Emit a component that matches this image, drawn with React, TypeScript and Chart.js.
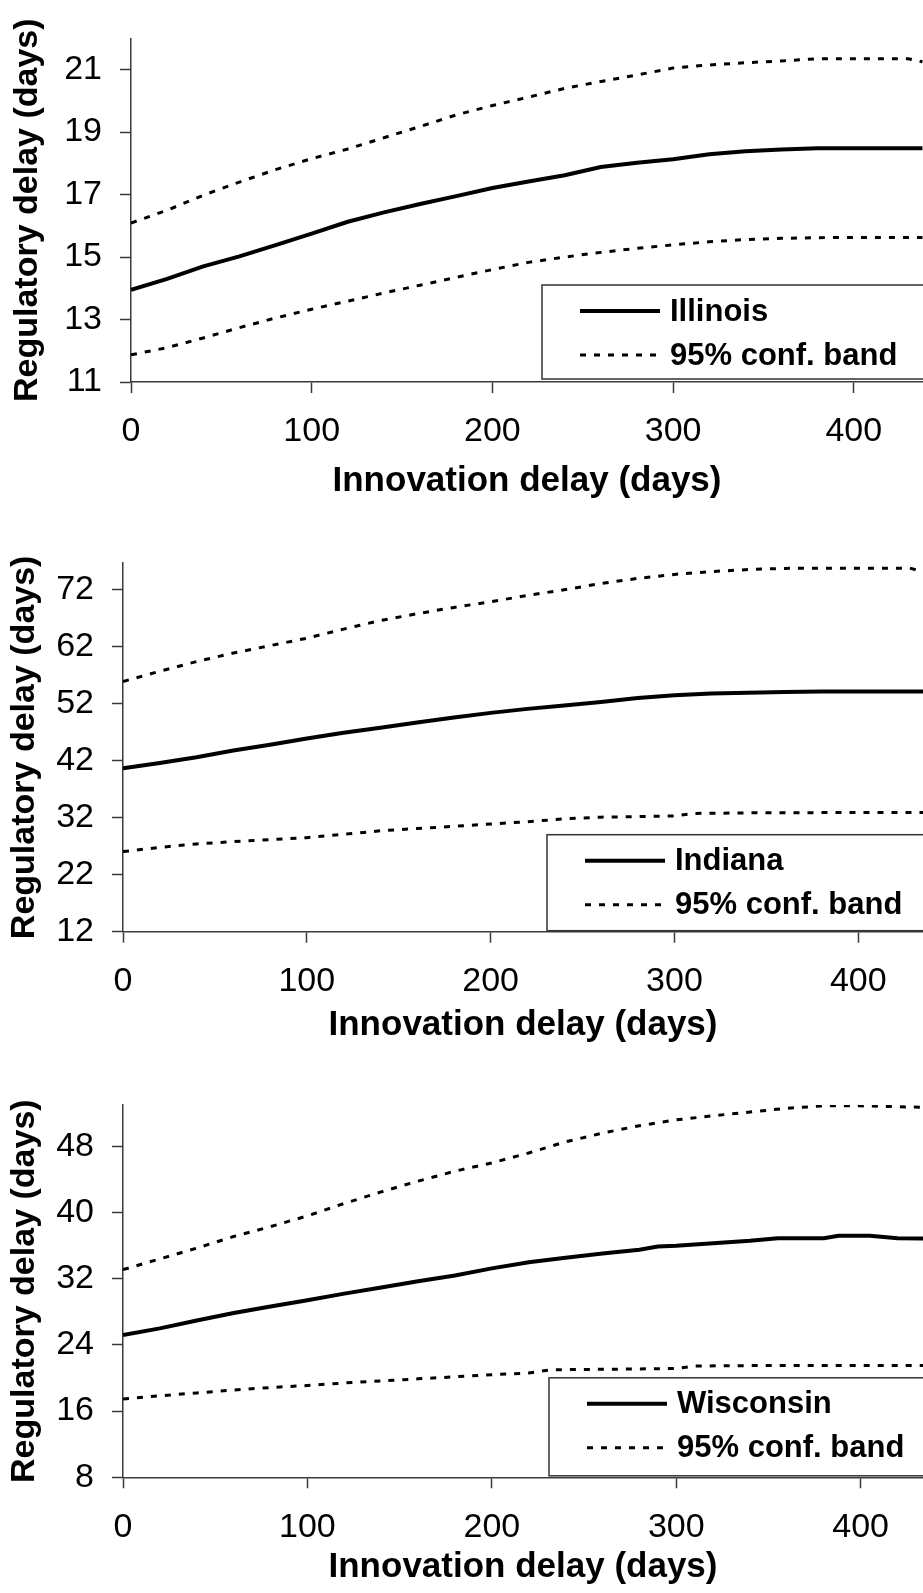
import { useEffect, useRef } from "react";
import { Chart, registerables } from "chart.js";

Chart.register(...registerables);

const FONT = "'Liberation Sans', Arial, Helvetica, sans-serif";

// ---------- shared text / ticks ----------
const xAxisTitle = "Innovation delay (days)";
const yAxisTitle = "Regulatory delay (days)";
const bandLabel = "95% conf. band";
const xTickValues = [0, 100, 200, 300, 400];

// ---------- Illinois ----------
const ilName = "Illinois";
const ilYTicks = [11, 13, 15, 17, 19, 21];
const ilMainDays = [0, 20, 40, 60, 80, 100, 120, 140, 160, 180, 200, 220, 240, 260, 280, 300, 320, 340, 360, 380, 400, 420, 438];
const ilMain = [13.95, 14.3, 14.7, 15.02, 15.38, 15.75, 16.13, 16.43, 16.7, 16.95, 17.21, 17.42, 17.62, 17.88, 18.02, 18.13, 18.29, 18.39, 18.44, 18.48, 18.48, 18.48, 18.48];
const ilUpperDays = [0, 20, 40, 60, 80, 100, 120, 140, 160, 180, 200, 220, 240, 260, 280, 300, 320, 340, 360, 380, 400, 420, 430, 438];
const ilUpper = [16.09, 16.5, 16.98, 17.4, 17.8, 18.15, 18.46, 18.82, 19.18, 19.55, 19.85, 20.12, 20.4, 20.62, 20.83, 21.05, 21.15, 21.22, 21.28, 21.35, 21.35, 21.35, 21.35, 21.25];
const ilLowerDays = [0, 20, 40, 60, 80, 100, 120, 140, 160, 180, 200, 220, 240, 260, 280, 300, 320, 340, 360, 380, 400, 420, 438];
const ilLower = [11.87, 12.1, 12.41, 12.74, 13.05, 13.33, 13.59, 13.85, 14.1, 14.35, 14.6, 14.83, 15.0, 15.15, 15.28, 15.39, 15.49, 15.56, 15.6, 15.62, 15.63, 15.63, 15.63];

// ---------- Indiana ----------
const inName = "Indiana";
const inYTicks = [12, 22, 32, 42, 52, 62, 72];
const inMainDays = [0, 20, 40, 60, 80, 100, 120, 140, 160, 180, 200, 220, 240, 260, 280, 300, 320, 340, 360, 380, 400, 420, 436];
const inMain = [40.7, 41.6, 42.6, 43.8, 44.8, 45.9, 46.9, 47.8, 48.7, 49.6, 50.4, 51.1, 51.7, 52.3, 53.0, 53.5, 53.8, 53.95, 54.05, 54.15, 54.15, 54.15, 54.15];
const inUpperDays = [0, 20, 40, 60, 80, 100, 120, 140, 160, 180, 200, 220, 240, 260, 280, 300, 320, 340, 360, 380, 400, 420, 428, 436];
const inUpper = [55.9, 57.7, 59.4, 60.9, 62.2, 63.5, 65.1, 66.6, 67.8, 68.9, 69.9, 71.0, 72.0, 73.1, 74.0, 74.7, 75.2, 75.55, 75.75, 75.8, 75.8, 75.8, 75.8, 75.1];
const inLowerDays = [0, 20, 40, 60, 80, 100, 120, 140, 160, 180, 200, 220, 240, 260, 280, 300, 310, 340, 380, 420, 436];
const inLower = [26.05, 26.8, 27.4, 27.8, 28.15, 28.5, 29.1, 29.7, 30.1, 30.5, 30.9, 31.3, 31.8, 32.1, 32.2, 32.3, 32.75, 32.85, 32.9, 32.9, 32.9];

// ---------- Wisconsin ----------
const wiName = "Wisconsin";
const wiYTicks = [8, 16, 24, 32, 40, 48];
const wiMainDays = [0, 20, 40, 60, 80, 100, 120, 140, 160, 180, 200, 220, 240, 260, 280, 290, 300, 320, 340, 355, 380, 388, 405, 420, 436];
const wiMain = [25.2, 26.0, 26.95, 27.85, 28.65, 29.4, 30.2, 30.95, 31.7, 32.4, 33.25, 34.0, 34.55, 35.05, 35.5, 35.9, 36.0, 36.3, 36.6, 36.9, 36.9, 37.2, 37.2, 36.9, 36.85];
const wiUpperDays = [0, 20, 40, 60, 80, 100, 120, 140, 160, 180, 200, 220, 240, 260, 280, 300, 320, 340, 360, 380, 400, 420, 436];
const wiUpper = [33.1, 34.4, 35.7, 37.1, 38.3, 39.6, 41.1, 42.5, 43.8, 45.0, 46.0, 47.2, 48.55, 49.6, 50.5, 51.2, 51.7, 52.15, 52.6, 52.9, 52.9, 52.8, 52.7];
const wiLowerDays = [0, 20, 40, 60, 80, 100, 120, 140, 160, 180, 200, 220, 232, 260, 280, 300, 310, 340, 380, 436];
const wiLower = [17.45, 17.85, 18.2, 18.55, 18.85, 19.1, 19.4, 19.65, 19.9, 20.15, 20.4, 20.6, 21.0, 21.05, 21.1, 21.15, 21.45, 21.5, 21.5, 21.5];

type Panel = {
  name: string;
  yTicks: number[];
  mainDays: number[];
  main: number[];
  upperDays: number[];
  upper: number[];
  lowerDays: number[];
  lower: number[];
  // layout
  top: number;
  height: number;
  padTop: number;
  axisLeft: number;
  xMax: number;
  yMin: number;
  yMax: number;
  xScaleH: number;
  xTitlePad: number;
  yTitleX: number;
  legendFromRight: number;
  legendHeight: number;
  legendGap: number;
};

const panels: Panel[] = [
  {
    name: ilName, yTicks: ilYTicks, mainDays: ilMainDays, main: ilMain,
    upperDays: ilUpperDays, upper: ilUpper, lowerDays: ilLowerDays, lower: ilLower,
    top: 0, height: 520, padTop: 22, axisLeft: 131, xMax: 438.3, yMin: 11, yMax: 22,
    xScaleH: 138, xTitlePad: 21.5, yTitleX: 28, legendFromRight: 381, legendHeight: 94, legendGap: 3,
  },
  {
    name: inName, yTicks: inYTicks, mainDays: inMainDays, main: inMain,
    upperDays: inUpperDays, upper: inUpper, lowerDays: inLowerDays, lower: inLower,
    top: 520, height: 530, padTop: 43, axisLeft: 123, xMax: 435.2, yMin: 12, yMax: 76.7,
    xScaleH: 118.3, xTitlePad: 7.5, yTitleX: 25, legendFromRight: 376, legendHeight: 96, legendGap: 1,
  },
  {
    name: wiName, yTicks: wiYTicks, mainDays: wiMainDays, main: wiMain,
    upperDays: wiUpperDays, upper: wiUpper, lowerDays: wiLowerDays, lower: wiLower,
    top: 1050, height: 543, padTop: 55, axisLeft: 123, xMax: 433.8, yMin: 8, yMax: 53,
    xScaleH: 115.7, xTitlePad: 8.5, yTitleX: 25, legendFromRight: 374, legendHeight: 98, legendGap: 1.5,
  },
];

const AXIS_COLOR = "#3a3a3a";
const DASH = [6, 8];

function overlayPlugin(p: Panel) {
  return {
    id: "overlay-" + p.name,
    afterDraw(chart: any) {
      const { ctx, chartArea } = chart;
      const cw = chart.width;
      // y-axis title (rotated)
      ctx.save();
      ctx.translate(p.yTitleX, (chartArea.top + chartArea.bottom) / 2);
      ctx.rotate(-Math.PI / 2);
      ctx.font = `bold 34px ${FONT}`;
      ctx.fillStyle = "#000";
      ctx.textAlign = "center";
      ctx.textBaseline = "middle";
      ctx.fillText(yAxisTitle, 0, 0);
      ctx.restore();

      // legend box
      const left = chartArea.right - p.legendFromRight;
      const bottom = chartArea.bottom - p.legendGap;
      const top = bottom - p.legendHeight;
      ctx.save();
      ctx.fillStyle = "#fff";
      ctx.fillRect(left, top, cw - left + 10, bottom - top);
      ctx.strokeStyle = "#333";
      ctx.lineWidth = 1.5;
      ctx.strokeRect(left, top, cw - left + 10, bottom - top);

      const items = [chart.data.datasets[0], chart.data.datasets[1]];
      const rows = [top + 26, top + 70];
      items.forEach((ds: any, i: number) => {
        const y = rows[i];
        ctx.beginPath();
        ctx.setLineDash(ds.borderDash || []);
        ctx.lineWidth = ds.borderWidth;
        ctx.strokeStyle = ds.borderColor;
        ctx.moveTo(left + 38, y);
        ctx.lineTo(left + 118, y);
        ctx.stroke();
        ctx.setLineDash([]);
        ctx.fillStyle = "#000";
        ctx.font = `bold 31px ${FONT}`;
        ctx.textAlign = "left";
        ctx.textBaseline = "middle";
        ctx.fillText(ds.label, left + 128, y + 1);
      });
      ctx.restore();
    },
  };
}

function makeConfig(p: Panel): any {
  const pts = (xs: number[], ys: number[]) => xs.map((x, i) => ({ x, y: ys[i] }));
  const tickFont = { family: FONT, size: 34, lineHeight: 1.2 };
  const grid = {
    drawOnChartArea: false,
    drawTicks: true,
    tickLength: 11,
    tickColor: AXIS_COLOR,
    tickWidth: 1.5,
  };
  const border = { display: true, color: AXIS_COLOR, width: 1.5 };
  return {
    type: "line",
    data: {
      datasets: [
        {
          label: p.name,
          data: pts(p.mainDays, p.main),
          borderColor: "#000",
          borderWidth: 4,
          pointRadius: 0,
          tension: 0,
          fill: false,
        },
        {
          label: bandLabel,
          data: pts(p.upperDays, p.upper),
          borderColor: "#000",
          borderWidth: 3,
          borderDash: DASH,
          pointRadius: 0,
          tension: 0,
          fill: false,
        },
        {
          label: bandLabel,
          data: pts(p.lowerDays, p.lower),
          borderColor: "#000",
          borderWidth: 3,
          borderDash: DASH,
          pointRadius: 0,
          tension: 0,
          fill: false,
        },
      ],
    },
    options: {
      animation: false,
      responsive: false,
      maintainAspectRatio: false,
      devicePixelRatio: 1,
      layout: { padding: { top: p.padTop, left: 0, right: 0, bottom: 0 } },
      plugins: {
        legend: { display: false },
        tooltip: { enabled: false },
      },
      scales: {
        x: {
          type: "linear",
          min: 0,
          max: p.xMax,
          afterBuildTicks: (s: any) => {
            s.ticks = xTickValues.map((v) => ({ value: v }));
          },
          afterFit: (s: any) => {
            s.height = p.xScaleH;
          },
          ticks: {
            font: tickFont,
            color: "#000",
            padding: 18.5,
            maxRotation: 0,
            autoSkip: false,
          },
          grid,
          border,
          title: {
            display: true,
            text: xAxisTitle,
            color: "#000",
            font: { family: FONT, size: 35, weight: "bold", lineHeight: 1 },
            padding: { top: 0, bottom: p.xTitlePad },
          },
        },
        y: {
          type: "linear",
          min: p.yMin,
          max: p.yMax,
          afterBuildTicks: (s: any) => {
            s.ticks = p.yTicks.map((v) => ({ value: v }));
          },
          afterFit: (s: any) => {
            s.width = p.axisLeft;
          },
          ticks: {
            font: tickFont,
            color: "#000",
            padding: 18,
            autoSkip: false,
          },
          grid,
          border,
        },
      },
    },
    plugins: [overlayPlugin(p)],
  };
}

function PanelChart({ p }: { p: Panel }) {
  const ref = useRef<HTMLCanvasElement | null>(null);
  useEffect(() => {
    if (!ref.current) return;
    const chart = new Chart(ref.current, makeConfig(p));
    return () => chart.destroy();
  }, [p]);
  return (
    <canvas
      ref={ref}
      width={923}
      height={p.height}
      style={{ position: "absolute", left: 0, top: p.top, width: 923, height: p.height, display: "block" }}
    />
  );
}

export default function App() {
  return (
    <div
      style={{
        position: "absolute",
        left: 0,
        top: 0,
        width: 923,
        height: 1593,
        background: "#fff",
        overflow: "hidden",
      }}
    >
      {panels.map((p) => (
        <PanelChart key={p.name} p={p} />
      ))}
    </div>
  );
}
